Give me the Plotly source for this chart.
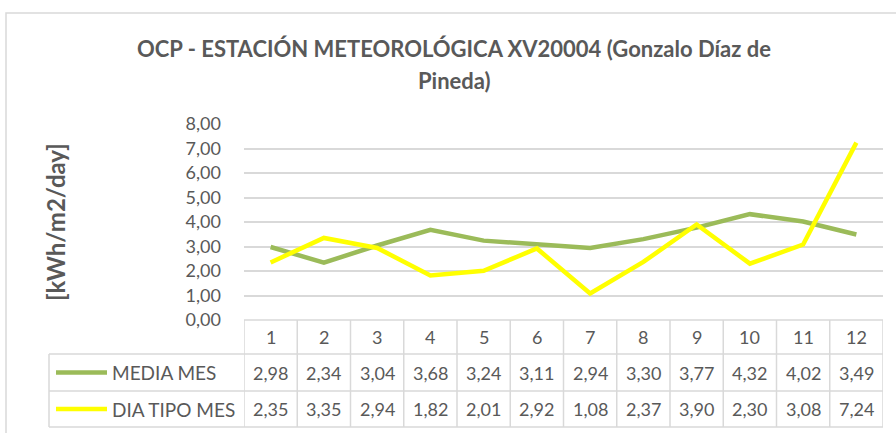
import plotly.graph_objects as go

months = [1, 2, 3, 4, 5, 6, 7, 8, 9, 10, 11, 12]
media_mes = [2.98, 2.34, 3.04, 3.68, 3.24, 3.11, 2.94, 3.30, 3.77, 4.32, 4.02, 3.49]
dia_tipo_mes = [2.35, 3.35, 2.94, 1.82, 2.01, 2.92, 1.08, 2.37, 3.90, 2.30, 3.08, 7.24]
series_names = ["MEDIA MES", "DIA TIPO MES"]
series_colors = ["#9BBB59", "#FFFF00"]
title_lines = ["OCP - ESTACIÓN METEOROLÓGICA XV20004 (Gonzalo Díaz de", "Pineda)"]
y_title = "[kWh/m2/day]"
y_ticks = [0, 1, 2, 3, 4, 5, 6, 7, 8]

W, H = 896, 433
L, R, T, B = 244, 883, 124, 320
FONT = "Lato"
TXT = "#595959"
GRID = "#D9D9D9"

def px(x):
    return (x - L) / (R - L)

def py(y):
    return (B - y) / (B - T)

fig = go.Figure()
for name, vals, col in zip(series_names, [media_mes, dia_tipo_mes], series_colors):
    fig.add_trace(go.Scatter(x=months, y=vals, mode="lines", name=name,
                             line=dict(color=col, width=4.5), showlegend=False,
                             hoverinfo="x+y"))

shapes = []
annotations = []
# outer border
shapes.append(dict(type="rect", xref="paper", yref="paper", x0=px(6), x1=px(905), y0=py(13), y1=py(445),
                   line=dict(color=GRID, width=1.5), layer="below"))
# table grid
row_y = [320, 354, 391, 427]
for i in range(13):
    shapes.append(dict(type="line", xref="x", yref="paper", x0=0.5 + i, x1=0.5 + i,
                       y0=py(row_y[0]), y1=py(row_y[-1]), line=dict(color=GRID, width=1.5)))
shapes.append(dict(type="line", xref="x", yref="paper", x0=0.5, x1=12.5, y0=py(320), y1=py(320),
                   line=dict(color=GRID, width=1.5)))
for yy in row_y[1:]:
    shapes.append(dict(type="line", xref="paper", yref="paper", x0=px(49), x1=px(883), y0=py(yy), y1=py(yy),
                       line=dict(color=GRID, width=1.5)))
shapes.append(dict(type="line", xref="paper", yref="paper", x0=px(49), x1=px(49), y0=py(354), y1=py(427),
                   line=dict(color=GRID, width=1.5)))

NUM = dict(family=FONT, size=18, color=TXT)
# header row
for m in months:
    annotations.append(dict(x=m, y=py(337), xref="x", yref="paper", text=str(m), showarrow=False,
                            font=NUM, xanchor="center", yanchor="middle"))
# data rows
for r, (name, vals, col) in enumerate(zip(series_names, [media_mes, dia_tipo_mes], series_colors)):
    cy = (row_y[r + 1] + row_y[r + 2]) / 2
    for m, v in zip(months, vals):
        annotations.append(dict(x=m, y=py(cy), xref="x", yref="paper", text=f"{v:.2f}".replace(".", ","),
                                showarrow=False, font=NUM, xanchor="center", yanchor="middle"))
    shapes.append(dict(type="line", xref="paper", yref="paper", x0=px(56), x1=px(107), y0=py(cy), y1=py(cy),
                       line=dict(color=col, width=4.5)))
    annotations.append(dict(x=px(110), y=py(cy), xref="paper", yref="paper", text=name, showarrow=False,
                            font=dict(family=FONT, size=19, color=TXT), xanchor="left", yanchor="middle"))

# title
for t, yy in zip(title_lines, [48, 80]):
    annotations.append(dict(x=px(454), y=py(yy), xref="paper", yref="paper", text=f"<b>{t}</b>",
                            showarrow=False, font=dict(family=FONT, size=22, color=TXT),
                            xanchor="center", yanchor="middle"))
# y axis title
annotations.append(dict(x=px(55), y=py(222), xref="paper", yref="paper", text=f"<b>{y_title}</b>",
                        showarrow=False, textangle=-90, font=dict(family=FONT, size=24, color=TXT),
                        xanchor="center", yanchor="middle"))

fig.update_layout(
    width=W, height=H,
    margin=dict(l=L, r=W - R, t=T, b=H - B, pad=0),
    paper_bgcolor="white", plot_bgcolor="white",
    separators=",.",
    shapes=shapes, annotations=annotations,
    xaxis=dict(range=[0.5, 12.5], showgrid=False, zeroline=False, showticklabels=False, ticks="",
               fixedrange=True),
    yaxis=dict(range=[0, 8], tickvals=y_ticks, tickformat=".2f", showgrid=True, gridcolor=GRID, gridwidth=1.5,
               zeroline=False, ticks="", ticklabelstandoff=22,
               tickfont=dict(family=FONT, size=18, color=TXT), fixedrange=True),
)
fig.write_html("out.html", config={"displayModeBar": False},
               post_script="document.body.style.margin='0';document.body.style.overflow='hidden';")
